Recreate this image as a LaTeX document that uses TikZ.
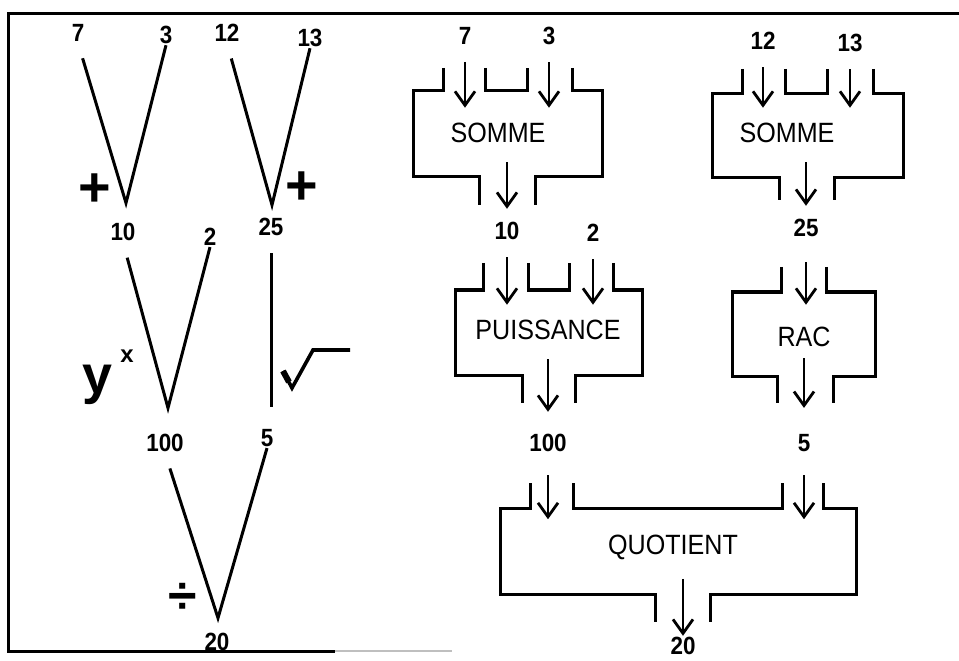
\documentclass[tikz,border=0pt]{standalone}
\usepackage{fontspec}
\setmainfont{Liberation Sans}
\newfontfamily\boxfont[FakeStretch=0.9]{Liberation Sans}
\usepackage{tikz}
\usetikzlibrary{arrows.meta}

\tikzset{
  num/.style={font=\boxfont\bfseries\fontsize{12.5}{13}\selectfont, inner sep=0.5bp},
  oper/.style={font=\bfseries\fontsize{28}{28}\selectfont, inner sep=0pt},
  lbl/.style={font=\boxfont\fontsize{14}{14}\selectfont, inner sep=0pt},
  tree/.style={line width=1.5bp, shorten <=8bp},
  boxline/.style={line width=1.5bp},
  arr/.style={-{Straight Barb[length=7bp,width=10bp]}, line width=1.4bp,
    shorten <=8bp, shorten >=7.5bp},
  outarr/.style={arr, shorten <=9.5bp, shorten >=6bp}
}

\begin{document}
\begin{tikzpicture}[x=0.5bp, y=-0.5bp]
  \useasboundingbox (0,0) rectangle (959,661);
  % frame
  \draw[line width=1.5bp] (959,14) -- (8,14) -- (8,651) -- (335,651);
  \draw[line width=0.8bp, black!25] (335,651) -- (452,651);

  % tree on the left
  \node[num] (l7) at (78,33) {7};
  \node[num] (l3) at (166,35) {3};
  \node[num] (l12) at (227,33) {12};
  \node[num] (l13) at (310,38) {13};
  \coordinate (v1) at (126,203);
  \coordinate (v2) at (272,205);
  \draw[tree] (l7.south) -- (v1) -- (l3.south);
  \draw[tree] (l12.south) -- (v2) -- (l13.south);
  \node[oper] (plus1) at (95,190) {+};
  \node[oper] (plus2) at (302,188) {+};
  \node[num] (l10) at (123,232) {10};
  \node[num] (l2) at (210,237) {2};
  \node[num] (l25) at (271,227) {25};
  \coordinate (v3) at (168,408);
  \coordinate (v4) at (271,407);
  \draw[tree] (l10.south) -- (v3) -- (l2.south);
  \draw[tree] (l25.south) -- (v4);
  \node[font=\bfseries\fontsize{27}{27}\selectfont, inner sep=0pt, anchor=base]
    (ysym) at (97,393) {y};
  \node[font=\bfseries\fontsize{12}{12}\selectfont, inner sep=0pt, anchor=base]
    (xsym) at (127,363) {x};
  \draw[line width=1.8bp, line join=miter] (283,371) -- (292,388) -- (313,350) -- (350,350);
  \draw[line width=3bp] (283,371) -- (289,382);
  \node[num] (l100) at (165,443) {100};
  \node[num] (l5) at (267,438) {5};
  \coordinate (v5) at (218,618);
  \draw[tree] (l100.south) -- (v5) -- (l5.south);
  \node[font=\bfseries\fontsize{26}{26}\selectfont, inner sep=0pt] (div) at (183,598) {÷};
  \node[num] (l20) at (217,642) {20};

  % boxes on the right
  \node[num] (r7) at (465,36) {7};
  \node[num] (r3) at (549,36) {3};
  \node[lbl] (somA) at (498,133) {SOMME};
  \draw[boxline] (443,68) |- (413,91) |- (479,177) -- (479,205);
  \draw[boxline] (572,68) |- (602,91) |- (535,177) -- (535,205);
  \draw[boxline] (485,68) |- (527,91) -- (527,68);
  \draw[arr] (r7) -- (r7 |- somA.north);
  \draw[arr] (r3) -- (r3 |- somA.north);

  \node[num] (r12) at (763,41) {12};
  \node[num] (r13) at (850,43) {13};
  \node[lbl] (somB) at (787,133) {SOMME};
  \draw[boxline] (742,69) |- (712,94) |- (779,178) -- (779,200);
  \draw[boxline] (873,69) |- (903,94) |- (834,178) -- (834,200);
  \draw[boxline] (785,69) |- (827,94) -- (827,69);
  \draw[arr] (r12) -- (r12 |- somB.north);
  \draw[arr] (r13) -- (r13 |- somB.north);

  \node[num] (r10) at (507,231) {10};
  \node[num] (r2) at (593,233) {2};
  \node[num] (r25) at (806,228) {25};
  \draw[outarr] (r10 |- somA.south) -- (r10);
  \draw[outarr] (r25 |- somB.south) -- (r25);

  \node[lbl] (puis) at (548,330) {PUISSANCE};
  \draw[boxline] (483,263) |- (455,290) |- (522,375) -- (522,403);
  \draw[boxline] (613,263) |- (642,290) |- (575,375) -- (575,403);
  \draw[boxline] (528,263) |- (569,290) -- (569,263);
  \draw[arr] (r10) -- (r10 |- puis.north);
  \draw[arr] (r2) -- (r2 |- puis.north);

  \node[lbl] (rac) at (804,337) {RAC};
  \draw[boxline] (781,267) |- (732,292) |- (777,376) -- (777,403);
  \draw[boxline] (826,267) |- (875,292) |- (833,376) -- (833,403);
  \draw[arr, shorten <=12bp, shorten >=11bp] (r25) -- (r25 |- rac.north);

  \node[num] (r100) at (548,443) {100};
  \node[num] (r5) at (804,443) {5};
  \draw[outarr, shorten >=10.5bp] (r100 |- puis.south) -- (r100);
  \draw[outarr, shorten <=5.5bp, shorten >=12.5bp] (r5 |- rac.south) -- (r5);

  \node[lbl] (quot) at (673,547) {QUOTIENT};
  \draw[boxline] (530,483) |- (500,508) |- (655,594) -- (655,622);
  \draw[boxline] (823,483) |- (856,508) |- (710,594) -- (710,622);
  \draw[boxline] (573,483) |- (782,508) -- (782,483);
  \draw[arr, shorten <=11bp] (r100) -- (r100 |- quot.north);
  \draw[arr, shorten <=11bp] (r5) -- (r5 |- quot.north);

  \node[num] (r20) at (683,646) {20};
  \draw[outarr, shorten >=0bp] (r20 |- quot.south) -- (r20);
\end{tikzpicture}
\end{document}
